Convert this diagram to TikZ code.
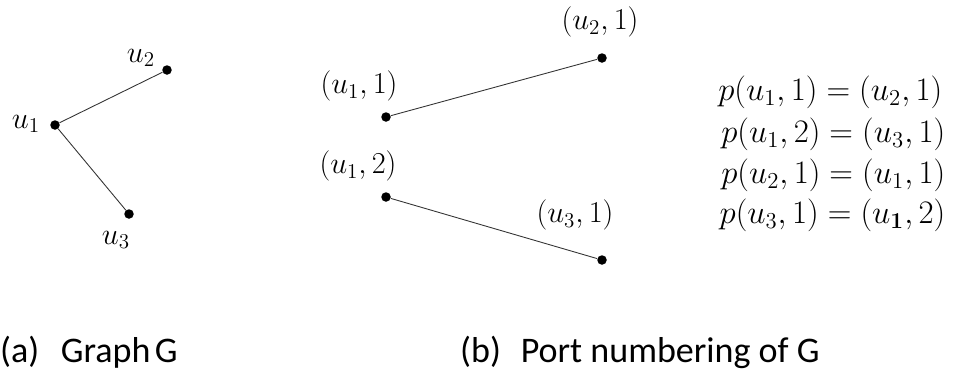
\documentclass[tikz,border=0pt]{standalone}
\usepackage{amsmath, amssymb}
\usepackage{fontspec}
\newfontfamily\capfont{Carlito}
\usepackage{tikz}

\begin{document}
\begin{tikzpicture}[
    font=\fontsize{17.28}{20}\selectfont,
    vertex/.style={
        circle,
        fill=black,
        inner sep=0pt,
        minimum size=0.19cm
    },
    edge/.style={
        line width=0.5pt,
        draw=black!80
    },
    equation/.style={
        anchor=east,
        scale=1.08,
        transform shape
    },
    caption/.style={
        anchor=west,
        font=\capfont\fontsize{20.5}{24}\selectfont
    }
]
    \useasboundingbox (0,0) rectangle (19.24,-7.5);

    % (a) the graph
    \node[vertex] (u1) at (1.1,-2.5) {};
    \node[vertex] (u2) at (3.34,-1.4) {};
    \node[vertex] (u3) at (2.58,-4.28) {};
    \node (u1lab) at (0.52,-2.48) {$u_1$};
    \node (u2lab) at (2.82,-1.16) {$u_2$};
    \node (u3lab) at (2.32,-4.8) {$u_3$};
    \draw[edge] (u1) -- (u2);
    \draw[edge] (u1) -- (u3);

    % (b) the ports
    \node[vertex] (p11) at (7.72,-2.34) {};
    \node[vertex] (p21) at (12.04,-1.16) {};
    \node[vertex] (p12) at (7.72,-3.94) {};
    \node[vertex] (p31) at (12.04,-5.2) {};
    \node (p11lab) at (7.18,-1.72) {$(u_1,1)$};
    \node (p21lab) at (12.0,-0.44) {$(u_2,1)$};
    \node (p12lab) at (7.16,-3.32) {$(u_1,2)$};
    \node (p31lab) at (11.5,-4.3) {$(u_3,1)$};
    \draw[edge] (p11) -- (p21);
    \draw[edge] (p12) -- (p31);

    \node[equation] (eq1) at (18.98,-1.84) {$p(u_1,1)=(u_2,1)$};
    \node[equation] (eq2) at (19.04,-2.68) {$p(u_1,2)=(u_3,1)$};
    \node[equation] (eq3) at (19.04,-3.5) {$p(u_2,1)=(u_1,1)$};
    \node[equation] (eq4) at (19.04,-4.3) {$p(u_3,1)=(u_{\boldsymbol{1}},2)$};

    % captions
    \node[caption] (capa) at (-0.12,-7.04) {(a)\hspace{0.6em}Graph\hspace{0.12em}G};
    \node[caption] (capb) at (9.08,-7.04) {(b)\hspace{0.55em}Port numbering of G};
\end{tikzpicture}
\end{document}
